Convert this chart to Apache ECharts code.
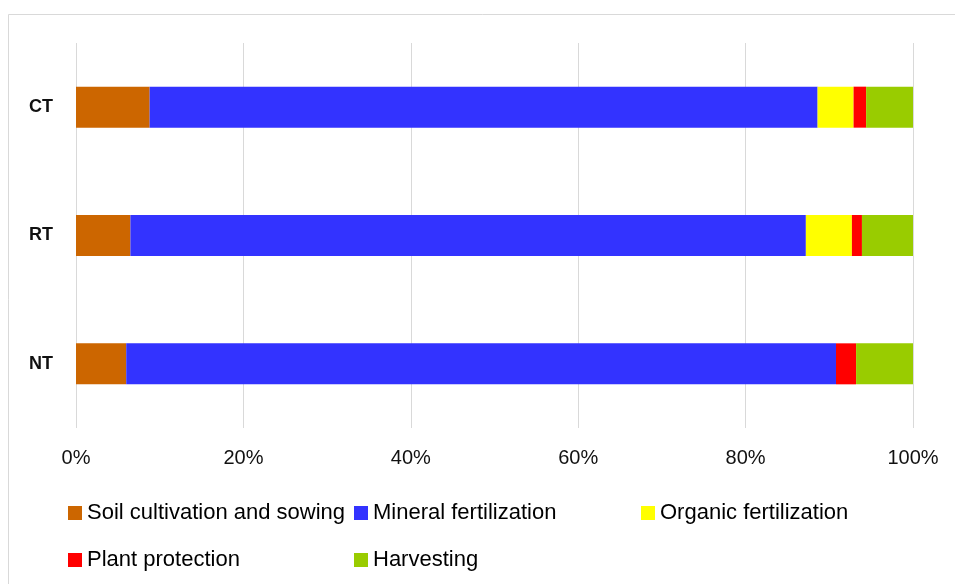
<!DOCTYPE html>
<html>
<head>
<meta charset="utf-8">
<style>
  html, body { margin: 0; padding: 0; background: #ffffff; }
  #chart { width: 955px; height: 584px; }
</style>
<script src="https://cdn.jsdelivr.net/npm/echarts@6/dist/echarts.min.js"></script>
</head>
<body>
<div id="chart"></div>
<script>
// Tillage systems (top to bottom)
const categories = ['CT', 'RT', 'NT'];

// Share of each operation in the total (%)
const soilCultivation = [8.8, 6.5, 6.0];
const mineralFertilization = [79.8, 80.7, 84.8];
const organicFertilization = [4.3, 5.5, 0.0];
const plantProtection = [1.5, 1.2, 2.4];
const harvesting = [5.6, 6.1, 6.8];

const tickValues = [0, 20, 40, 60, 80, 100];

const seriesNames = [
  'Soil cultivation and sowing',
  'Mineral fertilization',
  'Organic fertilization',
  'Plant protection',
  'Harvesting'
];
const seriesData = [soilCultivation, mineralFertilization, organicFertilization, plantProtection, harvesting];
const seriesColors = ['#CC6600', '#3333FF', '#FFFF00', '#FF0000', '#99CC00'];

// Legend slots: two rows, three columns
const legendSlots = [
  { left: 68, top: 502 },
  { left: 354, top: 502 },
  { left: 641, top: 502 },
  { left: 68, top: 549 },
  { left: 354, top: 549 }
];

const font = '"Liberation Sans", Arial, sans-serif';

const chart = echarts.init(document.getElementById('chart'), null, { renderer: 'canvas' });

const option = {
  backgroundColor: '#ffffff',
  animation: false,
  graphic: [{
    type: 'rect',
    shape: { x: 8.5, y: 14.5, width: 1000, height: 1000 },
    style: { fill: 'none', stroke: '#d9d9d9', lineWidth: 1 },
    silent: true,
    z: -10
  }],
  grid: { left: 76, right: 42, top: 43, bottom: 156, containLabel: false },
  xAxis: {
    type: 'value',
    min: 0,
    max: 100,
    interval: 20,
    axisLine: { show: false },
    axisTick: { show: false },
    splitLine: { show: true, lineStyle: { color: '#d9d9d9', width: 1 } },
    axisLabel: {
      margin: 20,
      fontFamily: font,
      fontSize: 20,
      color: '#111111',
      formatter: function (v) { return tickValues.indexOf(v) >= 0 ? v + '%' : ''; }
    }
  },
  yAxis: {
    type: 'category',
    data: categories,
    inverse: true,
    axisLine: { show: false },
    axisTick: { show: false },
    axisLabel: {
      margin: 23,
      fontFamily: font,
      fontSize: 18,
      fontWeight: 'bold',
      color: '#111111'
    }
  },
  legend: seriesNames.map(function (name, i) {
    return {
      data: [name],
      left: legendSlots[i].left,
      top: legendSlots[i].top,
      padding: 0,
      itemWidth: 14,
      itemHeight: 14,
      icon: 'rect',
      selectedMode: false,
      textStyle: { fontFamily: font, fontSize: 22, color: '#000000' }
    };
  }),
  series: seriesNames.map(function (name, i) {
    return {
      name: name,
      type: 'bar',
      stack: 'total',
      barWidth: 41,
      data: seriesData[i],
      itemStyle: { color: seriesColors[i] }
    };
  })
};

chart.setOption(option);
</script>
</body>
</html>
